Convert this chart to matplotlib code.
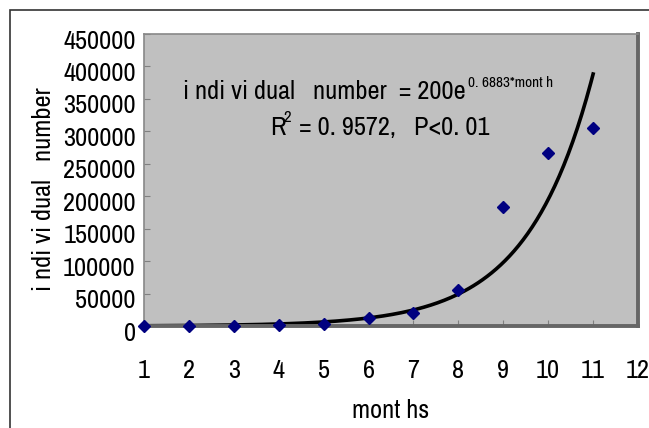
import numpy as np
import matplotlib.pyplot as plt
import matplotlib.transforms as mtransforms
from matplotlib.patches import Rectangle

months = [1, 2, 3, 4, 5, 6, 7, 8, 9, 10, 11]
individuals = [200, 400, 600, 900, 3600, 12900, 20600, 55300, 183400, 266100, 304900]

# fitted trend: 200 * exp(0.6883 * month)
fit_a = 200
fit_b = 0.6883

plt.rcParams['font.family'] = ['Liberation Sans Narrow', 'Arial Narrow', 'Archivo Narrow',
                               'Roboto Condensed', 'DejaVu Sans']

fig = plt.figure(figsize=(6.49, 4.28), dpi=100)
ax = fig.add_axes([0.2219, 0.2383, 0.7612, 0.6822])

ax.set_facecolor('#c0c0c0')
t = np.linspace(1, 11, 200)
ax.plot(t, fit_a * np.exp(fit_b * t), color='black', lw=2.6, zorder=2)
ax.plot(months, individuals, 'D', color='#000080', ms=6, zorder=3, clip_on=False)

ax.set_xlim(1, 12)
ax.set_ylim(0, 450000)
ax.set_xticks(range(1, 13))
ax.set_yticks(range(0, 450001, 50000))
ax.tick_params(axis='both', direction='in', length=4, color='#808080', labelsize=19)
ax.tick_params(axis='x', pad=24)
ax.tick_params(axis='y', pad=6)

# excel-style labels sit a little low
shift = mtransforms.ScaledTranslation(0, -5 / 100, fig.dpi_scale_trans)
for lab in ax.get_yticklabels():
    lab.set_transform(lab.get_transform() + shift)

for s in ['left', 'top']:
    ax.spines[s].set_color('#888888')
    ax.spines[s].set_linewidth(1.2)
for s in ['right', 'bottom']:
    ax.spines[s].set_color('#666666')
    ax.spines[s].set_linewidth(2.8)

ax.set_xlabel('mont hs', fontsize=19, labelpad=12)
ax.set_ylabel('i ndi vi dual   number', fontsize=19)
ax.yaxis.set_label_coords(-0.18, 0.47)

ax.text(0.65, 0.776, 'i ndi vi dual   number  = 200e',
        transform=ax.transAxes, fontsize=19, ha='right', va='baseline')
ax.text(0.655, 0.817, '0. 6883*mont h',
        transform=ax.transAxes, fontsize=11, ha='left', va='baseline')
ax.text(0.255, 0.655, 'R',
        transform=ax.transAxes, fontsize=19, ha='left', va='baseline')
ax.text(0.282, 0.70, '2',
        transform=ax.transAxes, fontsize=12, ha='left', va='baseline')
ax.text(0.313, 0.655, '= 0. 9572,   P<0. 01',
        transform=ax.transAxes, fontsize=19, ha='left', va='baseline')

fig.patches.append(Rectangle((10 / 649, -0.05), 1.0, 1.05 - 10 / 428,
                             transform=fig.transFigure, fill=False,
                             edgecolor='#333333', lw=1.2))

fig.savefig('out.png', dpi=100)
